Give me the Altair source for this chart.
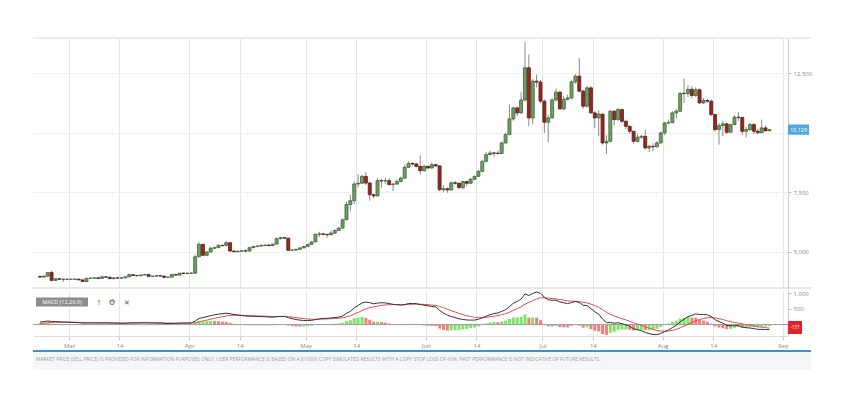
import altair as alt
import pandas as pd

# ---------------- data (daily candles, 2019-02-21 .. 2019-08-28) ----------------
START = "2019-02-21"

opens_feb = [3974, 3947, 3988, 4142, 3807, 3880, 3857, 3849]
highs_feb = [4007, 3993, 4148, 4210, 3899, 3900, 3880, 3907]
lows_feb = [3909, 3944, 3959, 3768, 3796, 3820, 3748, 3811]
closes_feb = [3947, 3990, 4139, 3810, 3875, 3855, 3859, 3855]

opens_mar = [3854, 3855, 3862, 3829, 3761, 3896, 3903, 3914, 3894, 3958, 3942, 3882, 3915, 3905, 3913, 3960,
             4048, 4011, 4003, 4037, 4055, 3976, 3986, 4006, 3992, 3937, 3946, 4058, 4030, 4114, 4106]
highs_mar = [3879, 3875, 3874, 3841, 3905, 3926, 3931, 3958, 3976, 3964, 3945, 3918, 3923, 3938, 3958, 4095,
             4054, 4061, 4042, 4084, 4068, 4003, 4003, 4006, 3996, 3960, 4064, 4064, 4116, 4133, 4114]
lows_mar = [3832, 3825, 3810, 3734, 3754, 3868, 3886, 3852, 3888, 3921, 3866, 3847, 3886, 3866, 3905, 3951,
            3998, 3983, 3995, 4015, 3973, 3968, 3976, 3969, 3906, 3917, 3936, 4019, 4021, 4079, 4090]
closes_mar = [3859, 3865, 3830, 3763, 3897, 3904, 3916, 3895, 3959, 3943, 3880, 3916, 3905, 3912, 3960, 4049,
              4012, 4003, 4037, 4055, 3977, 3987, 4006, 3993, 3939, 3946, 4058, 4030, 4114, 4106, 4105]

opens_apr = [4106, 4110, 4800, 5320, 4860, 5000, 5160, 5180, 5280, 5270, 5390, 5040, 5010, 5030, 5050,
             5040, 5180, 5230, 5250, 5270, 5290, 5270, 5330, 5560, 5600, 5580, 5070, 5080, 5110, 5170]
highs_apr = [4169, 4900, 5420, 5340, 5030, 5200, 5230, 5320, 5300, 5470, 5400, 5080, 5060, 5080, 5100,
             5200, 5260, 5290, 5330, 5320, 5320, 5360, 5600, 5650, 5620, 5600, 5120, 5130, 5200, 5260]
lows_apr = [4092, 4100, 4780, 4850, 4840, 4990, 5120, 5170, 5220, 5250, 5020, 4980, 4990, 5000, 4990,
            5030, 5170, 5210, 5220, 5240, 5230, 5250, 5320, 5520, 5540, 5050, 5040, 5060, 5090, 5150]
closes_apr = [4110, 4800, 5320, 4860, 5000, 5160, 5180, 5280, 5270, 5390, 5040, 5010, 5030, 5050, 5040,
              5180, 5230, 5250, 5270, 5290, 5270, 5330, 5560, 5600, 5580, 5070, 5080, 5110, 5170, 5230]

opens_may = [5230, 5320, 5420, 5740, 5760, 5740, 5720, 5790, 5900, 6000, 6350, 6990, 7150, 7850, 7880, 8170,
             7890, 7400, 7350, 7990, 7980, 7990, 7830, 7850, 7950, 8100, 8550, 8710, 8690, 8590, 8410]
highs_may = [5340, 5440, 5780, 5850, 5790, 5760, 5900, 5950, 6050, 6400, 7100, 7400, 7950, 8270, 8230, 8350,
             7950, 7450, 8100, 8050, 8100, 8090, 7900, 8050, 8150, 8650, 8800, 8760, 8720, 9050, 8650]
lows_may = [5220, 5300, 5410, 5620, 5690, 5600, 5700, 5760, 5880, 5990, 6340, 6700, 7000, 7700, 7850, 7800,
            7150, 7250, 7330, 7700, 7850, 7780, 7550, 7800, 7930, 8050, 8530, 8620, 8550, 8250, 8350]
closes_may = [5320, 5420, 5740, 5760, 5740, 5720, 5790, 5900, 6000, 6350, 6990, 7150, 7850, 7880, 8170, 7890,
              7400, 7350, 7990, 7980, 7990, 7830, 7850, 7950, 8100, 8550, 8710, 8690, 8590, 8410, 8590]

opens_jun = [8590, 8520, 8660, 8610, 7610, 7650, 7600, 7900, 7880, 7700, 7950, 7880, 8050, 8170, 8380,
             8800, 9080, 9150, 9140, 9130, 9570, 9920, 10580, 11040, 10830, 11370, 12720, 10620, 12160, 12120]
highs_jun = [8620, 8760, 8700, 8620, 7800, 7700, 7960, 7980, 7920, 7980, 8000, 8100, 8200, 8420, 8850,
             9200, 9250, 9200, 9250, 9620, 10000, 11180, 11100, 11100, 11700, 13800, 13290, 12250, 12440, 12200]
lows_jun = [8470, 8500, 8560, 7550, 7500, 7480, 7580, 7820, 7640, 7620, 7750, 7850, 8000, 8150, 8370,
            8750, 9050, 9000, 9080, 9100, 9550, 9900, 10500, 10700, 10800, 11300, 10270, 10350, 11900, 11250]
closes_jun = [8520, 8660, 8610, 7610, 7650, 7600, 7900, 7880, 7700, 7950, 7880, 8050, 8170, 8380, 8800,
              9080, 9150, 9140, 9130, 9570, 9920, 10580, 11040, 10830, 11370, 12720, 10620, 12160, 12120, 11320]

opens_jul = [11320, 10440, 10620, 11370, 11700, 11000, 11400, 11460, 12130, 12370, 11740, 11110, 11880, 10830,
             10620, 10780, 9570, 9640, 10900, 10550, 10970, 10480, 10270, 10060, 9640, 9810, 9850, 9360, 9430,
             9410, 9570]
highs_jul = [11400, 10750, 11450, 11850, 11750, 11550, 11600, 12200, 12450, 13140, 11800, 11950, 11950, 10900,
             10950, 10800, 9900, 10950, 10950, 11050, 11000, 10550, 10300, 10080, 9950, 9900, 10130, 9500, 9550,
             9650, 10050]
lows_jul = [9990, 9600, 10600, 11300, 10950, 10950, 11350, 11400, 12050, 11700, 11000, 11050, 10800, 10200,
            9850, 9500, 9100, 9600, 10300, 10500, 10400, 10150, 9950, 9550, 9600, 9750, 9300, 9200, 9220,
            9380, 9550]
closes_jul = [10440, 10620, 11370, 11700, 11000, 11400, 11460, 12130, 12370, 11740, 11110, 11880, 10830, 10620,
              10780, 9570, 9640, 10900, 10550, 10970, 10480, 10270, 10060, 9640, 9810, 9850, 9360, 9430, 9410,
              9570, 9990]

opens_aug = [9990, 10410, 10420, 10830, 10900, 11650, 11640, 11820, 11560, 11800, 11250, 11350, 11320, 10760,
             10130, 10300, 10370, 10020, 10340, 10650, 10640, 10060, 10130, 10340, 10060, 10000, 10200, 10080]
highs_aug = [10450, 10550, 10900, 11000, 11700, 12280, 12000, 11950, 11900, 11850, 11450, 11420, 11400, 10800,
             10400, 10500, 10420, 10380, 10750, 10870, 10660, 10250, 10420, 10400, 10150, 10550, 10300, 10160]
lows_aug = [9900, 10350, 10400, 10600, 10880, 11250, 11500, 11450, 11500, 11200, 11200, 11250, 10700, 10050,
            9500, 9850, 9950, 10000, 10320, 10500, 9900, 9800, 10080, 9950, 9950, 9990, 10050, 10060]
closes_aug = [10410, 10420, 10830, 10900, 11650, 11640, 11820, 11560, 11800, 11250, 11350, 11320, 10760, 10130,
              10300, 10370, 10020, 10340, 10650, 10640, 10060, 10130, 10340, 10060, 10000, 10200, 10080, 10129]

# MACD(12,26,9) indicator values per day (MACD line and signal line)
macd_vals = [82, 94, 114, 102, 96, 89, 83, 77, 72, 67,
             60, 49, 50, 51, 52, 50, 53, 54, 49, 48,
             45, 43, 45, 52, 55, 56, 59, 61, 57, 53,
             51, 48, 41, 35, 40, 40, 47, 51, 53, 55,
             111, 195, 222, 251, 285, 309, 332, 346, 363, 344,
             322, 303, 287, 270, 265, 261, 258, 253, 248, 240,
             236, 248, 258, 262, 221, 187, 160,
             142, 131, 131, 134, 160, 183, 196, 201, 211, 222,
             239, 273, 357, 420, 530, 605, 685, 715, 694, 658,
             682, 691, 687, 668, 642, 629, 618, 635, 666, 668,
             664, 633, 615, 594, 575, 559, 452, 366, 299, 257,
             226, 183, 165, 147, 143, 145, 168, 215, 269, 314,
             351, 367, 417, 473, 570, 675, 732, 809, 970, 921,
             986, 1033, 988, 868, 787, 769, 775, 715, 690, 664,
             697, 731, 699, 611, 602, 506, 405, 331, 177, 63,
             66, 46, 55, 32, -7, -56, -127, -164, -189, -250,
             -285, -313, -318, -281, -220, -168, -95, -24, 87, 169,
             253, 288, 338, 322, 322, 309, 257, 155, 96, 48,
             -20, -41, -34, -29, -78, -98, -107, -128, -149, -150,
             -157, -157]
signal_vals = [36, 48, 61, 69, 75, 78, 79, 78, 77, 75,
               72, 67, 64, 61, 59, 57, 57, 56, 55, 53,
               52, 50, 49, 50, 51, 52, 53, 55, 55, 55,
               54, 53, 51, 48, 46, 45, 45, 46, 48, 49,
               62, 88, 115, 142, 171, 198, 225, 249, 272, 286,
               294, 296, 294, 289, 284, 280, 275, 271, 266, 261,
               256, 255, 255, 257, 249, 237, 222, 206, 191, 179,
               170, 168, 171, 176, 181, 187, 194, 203, 217, 245,
               280, 330, 385, 445, 499, 538, 562, 586, 607, 623,
               632, 634, 633, 630, 631, 638, 644, 648, 645, 639,
               630, 619, 607, 576, 534, 487, 441, 398, 355, 317,
               283, 255, 233, 220, 219, 229, 246, 267, 287, 313,
               345, 390, 447, 504, 565, 646, 701, 758, 813, 848,
               852, 839, 825, 815, 795, 774, 752, 741, 739, 731,
               707, 686, 650, 601, 547, 473, 391, 326, 270, 227,
               188, 149, 108, 61, 16, -25, -70, -113, -153, -186,
               -205, -208, -200, -179, -148, -101, -47, 13, 68, 122,
               162, 194, 217, 225, 211, 188, 160, 124, 91, 66,
               47, 22, -2, -23, -44, -65, -82, -97, -109]

price_ticks = [5000, 7500, 10000, 12500]
macd_ticks = [0, 500, 1000]
LAST_PRICE = 10129
LAST_PRICE_TEXT = "10,129"
LAST_MACD_TEXT = "-157"
MACD_LABEL = "MACD (12,26,9)"
DISCLAIMER = ("MARKET PRICE (SELL PRICE) IS PROVIDED FOR INFORMATION PURPOSES ONLY. USER PERFORMANCE IS BASED ON "
              "A $10000 COPY SIMULATED RESULTS WITH A COPY STOP LOSS OF 60%. PAST PERFORMANCE IS NOT INDICATIVE "
              "OF FUTURE RESULTS.")

opens = opens_feb + opens_mar + opens_apr + opens_may + opens_jun + opens_jul + opens_aug
highs = highs_feb + highs_mar + highs_apr + highs_may + highs_jun + highs_jul + highs_aug
lows = lows_feb + lows_mar + lows_apr + lows_may + lows_jun + lows_jul + lows_aug
closes = closes_feb + closes_mar + closes_apr + closes_may + closes_jun + closes_jul + closes_aug

n = len(closes)
days = pd.date_range(START, periods=n, freq="D") + pd.Timedelta(hours=12)
df = pd.DataFrame({"t": days.strftime("%Y-%m-%dT%H:%M:%S"), "o": opens, "h": highs, "l": lows, "c": closes,
                   "macd": macd_vals, "signal": signal_vals})
df["dir"] = ["up" if c >= o else "down" for o, c in zip(opens, closes)]

FONT = "Open Sans"
W, H1, H2 = 755, 250, 46

x_domain = [alt.DateTime(year=2019, month=2, date=21), alt.DateTime(year=2019, month=9, date=1)]
tick_dates = []
for mo in range(3, 9):
    tick_dates += [alt.DateTime(year=2019, month=mo, date=1), alt.DateTime(year=2019, month=mo, date=14)]
tick_dates.append(alt.DateTime(year=2019, month=9, date=1))
x_scale = alt.Scale(domain=x_domain, nice=False)

top_x_axis = alt.Axis(values=tick_dates, labels=False, ticks=False, domain=False, title=None,
                      grid=True, gridColor="#e6e6e6")
price_scale = alt.Scale(domain=[3490, 13970], nice=False, zero=False)
price_axis = alt.Axis(orient="right", values=price_ticks,
                      labelExpr="datum.value == 10000 ? '' : format(datum.value, ',')",
                      labelFontSize=6, labelColor="#888", labelFont=FONT, tickSize=3, tickColor="#bbb",
                      domainColor="#ccc", gridColor="#f0f0f0", title=None, labelPadding=2)

one = pd.DataFrame({"a": [0]})
base = alt.Chart(df)
X_TOP = alt.X("t:T", scale=x_scale, axis=top_x_axis)

wicks = base.mark_rule(color="#8a8a8a", strokeWidth=1).encode(
    x=X_TOP, y=alt.Y("l:Q", scale=price_scale, axis=price_axis), y2="h:Q")
bodies = base.mark_bar(size=3, strokeWidth=0.8).encode(
    x=X_TOP,
    y=alt.Y("o:Q", scale=price_scale, axis=price_axis),
    y2="c:Q",
    color=alt.Color("dir:N", scale=alt.Scale(domain=["up", "down"], range=["#6f9f63", "#93291f"]), legend=None),
    stroke=alt.Stroke("dir:N", scale=alt.Scale(domain=["up", "down"], range=["#3f6237", "#5c1a13"]), legend=None),
)
top_line = alt.Chart(one).mark_rule(color="#dcdcdc").encode(x=alt.value(0), x2=alt.value(778), y=alt.value(0))
sep_line = alt.Chart(one).mark_rule(color="#cfcfcf").encode(x=alt.value(0), x2=alt.value(778), y=alt.value(H1))
tag_df = pd.DataFrame({"p": [LAST_PRICE]})
tag = alt.Chart(tag_df).transform_calculate(hi="datum.p + 215", lo="datum.p - 215").mark_rect(
    color="#4fa6e0").encode(x=alt.value(755), x2=alt.value(776),
                            y=alt.Y("hi:Q", scale=price_scale, axis=price_axis), y2="lo:Q")
tag_text = alt.Chart(tag_df).mark_text(color="white", fontSize=5.5, font=FONT).encode(
    x=alt.value(765.5), y=alt.Y("p:Q", scale=price_scale, axis=price_axis), text=alt.value(LAST_PRICE_TEXT))

top = alt.layer(wicks, bodies, top_line, sep_line, tag, tag_text).properties(width=W, height=H1)

# ---------------- MACD panel ----------------
bot_x_axis = alt.Axis(values=tick_dates, title=None, grid=True, gridColor="#e6e6e6",
                      labelExpr="date(datum.value) == 1 ? timeFormat(datum.value, '%b') : '14'",
                      labelFontSize=6, labelColor="#888", labelFont=FONT, tickSize=4, tickColor="#ccc",
                      domainColor="#ddd", labelPadding=2)
macd_scale = alt.Scale(domain=[-360, 1095], nice=False, zero=False)
macd_axis = alt.Axis(orient="right", values=macd_ticks,
                     labelExpr="datum.value == 0 ? '' : format(datum.value, ',')",
                     labelFontSize=6, labelColor="#888", labelFont=FONT, tickSize=3, tickColor="#bbb",
                     domainColor="#ccc", grid=False, title=None, labelPadding=2, labelBaseline="middle")
X_BOT = alt.X("t:T", scale=x_scale, axis=bot_x_axis)

mbase = alt.Chart(df).transform_calculate(hist="datum.macd - datum.signal", z0="0").transform_window(
    prev="lag(hist)", sort=[alt.SortField("t")]).transform_calculate(
    hdir="datum.prev == null || datum.hist >= datum.prev ? 'rising' : 'falling'")

hist = mbase.mark_bar(size=3).encode(
    x=X_BOT,
    y=alt.Y("hist:Q", scale=macd_scale, axis=macd_axis),
    y2="z0:Q",
    color=alt.Color("hdir:N", scale=alt.Scale(domain=["rising", "falling"], range=["#7ee468", "#f4807c"]),
                    legend=None),
)
zero = alt.Chart(pd.DataFrame({"z": [0]})).mark_rule(color="#9a9a9a", strokeWidth=1).encode(
    y=alt.Y("z:Q", scale=macd_scale, axis=macd_axis))
macd_line = alt.Chart(df).mark_line(color="#333333", strokeWidth=1).encode(
    x=X_BOT, y=alt.Y("macd:Q", scale=macd_scale, axis=macd_axis))
sig_line = alt.Chart(df).mark_line(color="#e0504a", strokeWidth=1).encode(
    x=X_BOT, y=alt.Y("signal:Q", scale=macd_scale, axis=macd_axis))

lbl_box = alt.Chart(one).mark_rect(color="#8d8d8d").encode(
    x=alt.value(3), x2=alt.value(55), y=alt.value(7.5), y2=alt.value(16.5))
lbl_txt = alt.Chart(one).mark_text(color="white", fontSize=5.5, font=FONT).encode(
    x=alt.value(29), y=alt.value(12), text=alt.value(MACD_LABEL))
icon_up = alt.Chart(one).mark_text(color="#777", fontSize=7, font="DejaVu Sans").encode(
    x=alt.value(66), y=alt.value(12.5), text=alt.value("↑"))
icon_gear = alt.Chart(one).mark_text(color="#555", fontSize=8, font="DejaVu Sans").encode(
    x=alt.value(79), y=alt.value(12.5), text=alt.value("\u2699\ufe0e"))
icon_x = alt.Chart(one).mark_text(color="#555", fontSize=7, font="DejaVu Sans").encode(
    x=alt.value(94), y=alt.value(12.5), text=alt.value("✕"))
red_box = alt.Chart(one).mark_rect(color="#e22424").encode(
    x=alt.value(755), x2=alt.value(769), y=alt.value(31), y2=alt.value(44))
red_txt = alt.Chart(one).mark_text(color="white", fontSize=4.5, font=FONT).encode(
    x=alt.value(762), y=alt.value(37.5), text=alt.value(LAST_MACD_TEXT))

band = alt.Chart(one).mark_rect(color="#f5f6f7").encode(
    x=alt.value(0), x2=alt.value(778), y=alt.value(62), y2=alt.value(80))
blue = alt.Chart(one).mark_rule(color="#3d8fd6", strokeWidth=2).encode(
    x=alt.value(0), x2=alt.value(778), y=alt.value(61))
disc = alt.Chart(one).mark_text(align="left", baseline="middle", fontSize=4.9, color="#9a9a9a", font=FONT).encode(
    x=alt.value(3), y=alt.value(69.5), text=alt.value(DISCLAIMER))

bottom = alt.layer(band, blue, disc, hist, zero, sig_line, macd_line, lbl_box, lbl_txt, icon_up, icon_gear,
                   icon_x, red_box, red_txt).properties(width=W, height=H2)

chart = alt.vconcat(top, bottom, spacing=0).resolve_scale(
    color="independent", stroke="independent"
).properties(
    padding={"left": 24, "top": 29, "right": 5, "bottom": 5}, background="white"
).configure_view(stroke=None)

chart.save("out.html", embed_options={"renderer": "svg", "actions": False})
